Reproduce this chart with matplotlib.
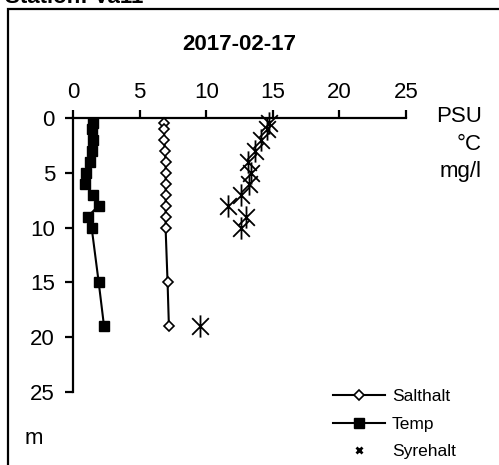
import matplotlib
matplotlib.use("Agg")
import matplotlib.pyplot as plt
from matplotlib.path import Path
from matplotlib.lines import Line2D
from matplotlib.patches import Rectangle

plt.rcParams['font.family'] = ['Liberation Sans', 'DejaVu Sans']

# Data
temp_depth = [0.5, 1, 2, 3, 4, 5, 6, 7, 8, 9, 10, 15, 19]
temp_vals = [1.5, 1.43, 1.5, 1.4, 1.3, 1.0, 0.9, 1.52, 1.93, 1.1, 1.4, 1.93, 2.33]

salt_depth = [0.5, 1, 2, 3, 4, 5, 6, 7, 8, 9, 10, 15, 19]
salt_vals = [6.85, 6.85, 6.85, 6.9, 6.95, 6.95, 6.95, 6.95, 6.95, 6.95, 6.95, 7.1, 7.2]

oxy_depth = [0.5, 1, 2, 3, 4, 5, 6, 7, 8, 9, 10, 19]
oxy_vals = [14.7, 14.6, 14.15, 13.65, 13.15, 13.4, 13.25, 12.65, 11.65, 13.0, 12.65, 9.55]

xticks = [0, 5, 10, 15, 20, 25]
yticks = [0, 5, 10, 15, 20, 25]

W, H = 499, 465
fig = plt.figure(figsize=(W / 100, H / 100), dpi=100)

# outer frame
fig.patches.append(Rectangle((8 / W, -0.1), 1.2, 1 - 9 / H + 0.1, transform=fig.transFigure,
                             fill=False, lw=1.6, ec='black'))
fig.text(5 / W, 1 - 3 / H, 'Station: Va11', fontsize=16, fontweight='bold', va='baseline', ha='left')

ax = fig.add_axes([73 / W, 1 - 392 / H, (406 - 73) / W, (392 - 118) / H])
ax.set_xlim(0, 25)
ax.set_ylim(25, 0)
for s in ['right', 'bottom']:
    ax.spines[s].set_visible(False)
for s in ['left', 'top']:
    ax.spines[s].set_linewidth(1.6)
ax.xaxis.tick_top()
ax.set_xticks(xticks)
ax.set_yticks(yticks)
ax.tick_params(axis='both', direction='out', length=6, width=1.6, labelsize=16)
ax.tick_params(axis='x', pad=5)
ax.tick_params(axis='y', pad=7)

ax.plot(salt_vals, salt_depth, color='black', lw=1.5, marker='D', markersize=5,
        mfc='white', mec='black', mew=1.2, clip_on=False, zorder=3)
ax.plot(temp_vals, temp_depth, color='black', lw=1.5, marker='s', markersize=7.5,
        mfc='black', mec='black', clip_on=False, zorder=3)

star = Path([(0, -1), (0, 1), (-0.75, -0.75), (0.75, 0.75), (-0.75, 0.75), (0.75, -0.75)],
            [Path.MOVETO, Path.LINETO, Path.MOVETO, Path.LINETO, Path.MOVETO, Path.LINETO])
ax.plot(oxy_vals, oxy_depth, linestyle='none', marker=star, markersize=16, mec='black',
        mew=1.3, clip_on=False, zorder=3)

ax.text(0.5, 1.0 + 73 / (392 - 118), '2017-02-17', transform=ax.transAxes, ha='center',
        va='center', fontsize=16, fontweight='bold')

fig.text(482 / W, 1 - 116 / H, 'PSU', ha='right', va='center', fontsize=16)
fig.text(482 / W, 1 - 144 / H, '°C', ha='right', va='center', fontsize=16)
fig.text(482 / W, 1 - 172 / H, 'mg/l', ha='right', va='center', fontsize=16)
fig.text(25 / W, 1 - 438 / H, 'm', ha='left', va='center', fontsize=16)

handles = [
    Line2D([], [], color='black', lw=1.5, marker='D', markersize=5, mfc='white', mec='black', mew=1.2),
    Line2D([], [], color='black', lw=1.5, marker='s', markersize=7.5, mfc='black', mec='black'),
    Line2D([], [], linestyle='none', marker='x', markersize=5, mec='black', mew=2),
]
fig.legend(handles, ['Salthalt', 'Temp', 'Syrehalt'], loc='upper left',
           bbox_to_anchor=(333 / W, 1 - 389 / H), frameon=False, fontsize=12.5,
           handlelength=3.0, handletextpad=0.4, labelspacing=0.72, borderaxespad=0,
           borderpad=0)

fig.savefig('out.png', dpi=100)
